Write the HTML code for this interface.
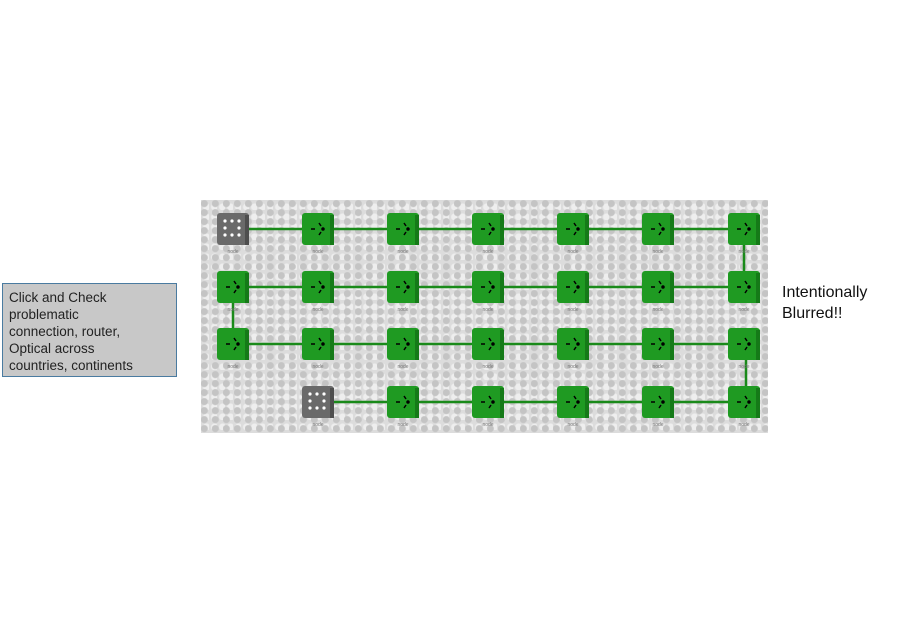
<!DOCTYPE html><html><head><style>
body{margin:0;width:900px;height:634px;background:#fff;position:relative;overflow:hidden;font-family:"Liberation Sans",sans-serif}
#panel{position:absolute;left:201px;top:200px;width:567px;height:233px;background:#dcdcdc;
background-image:radial-gradient(circle at 30% 40%,#c4c4c4 3px,transparent 4px),radial-gradient(circle at 70% 70%,#eeeeee 3px,transparent 4px);background-size:11px 9px,8px 10px}
#box{position:absolute;left:2px;top:283px;width:175px;height:94px;background:#c8c8c8;border:1px solid #4a7ba0;box-sizing:border-box;padding:5px 6px 0;font-size:13.5px;line-height:17px;color:#222;white-space:nowrap}
#blur{position:absolute;left:782px;top:282px;font-size:16px;line-height:21px;color:#111}
</style></head><body>
<div id="panel"></div>
<svg width="900" height="634" style="position:absolute;left:0;top:0">
<g stroke="#1a8a1a" stroke-width="2.5">
<line x1="233" y1="229" x2="744" y2="229"/>
<line x1="744" y1="229" x2="744" y2="287"/>
<line x1="233" y1="287" x2="744" y2="287"/>
<line x1="233" y1="287" x2="233" y2="344"/>
<line x1="233" y1="344" x2="744" y2="344"/>
<line x1="746" y1="344" x2="746" y2="402"/>
<line x1="318" y1="402" x2="746" y2="402"/>
</g>
<g id="nodes"></g>
</svg>
<script>
var xs=[233,318,403,488,573,658,744],ys=[229,287,344,402],s='';
for(var r=0;r<4;r++)for(var c=0;c<7;c++){
 if(r==3&&c==0)continue;
 var gray=(r==0&&c==0)||(r==3&&c==1);
 var x=xs[c]-16,y=ys[r]-16;
 s+='<rect x="'+x+'" y="'+y+'" width="32" height="32" rx="3" fill="'+(gray?'#6a6a6a':'#1f9a22')+'"/>';
 s+='<rect x="'+(x+28)+'" y="'+(y+2)+'" width="4" height="30" fill="'+(gray?'#4e4e4e':'#157a18')+'"/>';
 if(gray){for(var i=0;i<3;i++)for(var j=0;j<3;j++)if(!(i==1&&j==1))s+='<circle cx="'+(x+8+i*7)+'" cy="'+(y+8+j*7)+'" r="1.6" fill="#fff"/>';}
 else s+='<g stroke="#000" stroke-width="1.5"><line x1="'+(x+9)+'" y1="'+(y+16)+'" x2="'+(x+13)+'" y2="'+(y+16)+'"/><line x1="'+(x+17)+'" y1="'+(y+10)+'" x2="'+(x+19)+'" y2="'+(y+13)+'"/><line x1="'+(x+17)+'" y1="'+(y+22)+'" x2="'+(x+19)+'" y2="'+(y+19)+'"/><circle cx="'+(x+21)+'" cy="'+(y+16)+'" r="1"/></g>';
 s+='<text x="'+xs[c]+'" y="'+(y+40)+'" font-size="5" fill="#777" text-anchor="middle" font-family="Liberation Sans">node</text>';
}
document.getElementById('nodes').innerHTML=s;
</script>
<div id="box">Click and Check<br>problematic<br>connection, router,<br>Optical across<br>countries, continents</div>
<div id="blur">Intentionally<br>Blurred!!</div>
</body></html>
